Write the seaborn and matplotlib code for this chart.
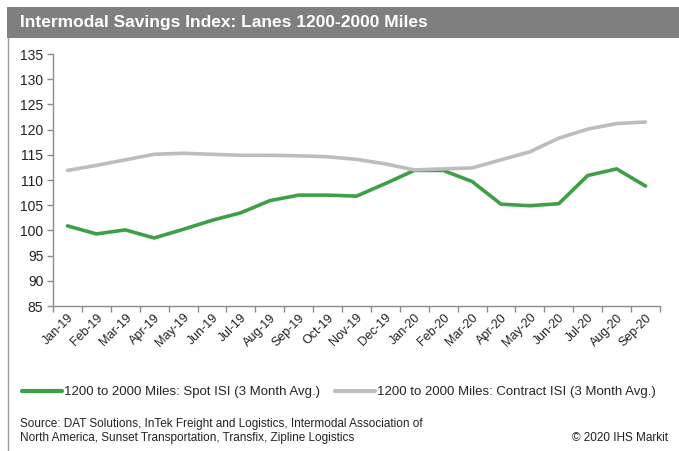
import matplotlib
matplotlib.use("Agg")
import matplotlib.pyplot as plt
from matplotlib.patches import Rectangle
from matplotlib.lines import Line2D
import seaborn as sns
import pandas as pd
import numpy as np

months = ["Jan-19", "Feb-19", "Mar-19", "Apr-19", "May-19", "Jun-19", "Jul-19",
          "Aug-19", "Sep-19", "Oct-19", "Nov-19", "Dec-19", "Jan-20", "Feb-20",
          "Mar-20", "Apr-20", "May-20", "Jun-20", "Jul-20", "Aug-20", "Sep-20"]
spot = [100.9, 99.3, 100.1, 98.5, 100.2, 102.0, 103.5, 105.9, 107.0, 107.0, 106.8,
        109.3, 111.9, 111.9, 109.7, 105.2, 104.9, 105.3, 110.9, 112.2, 108.8]
contract = [111.9, 112.9, 114.0, 115.1, 115.3, 115.1, 114.9, 114.9, 114.8, 114.6, 114.1,
            113.2, 112.0, 112.2, 112.4, 114.0, 115.6, 118.3, 120.1, 121.2, 121.5]
spot_label = "1200 to 2000 Miles: Spot ISI (3 Month Avg.)"
contract_label = "1200 to 2000 Miles: Contract ISI (3 Month Avg.)"
y_ticks = list(range(85, 136, 5))

sns.set_theme(style="white")
plt.rcParams["font.family"] = ["Liberation Sans", "DejaVu Sans"]

df = pd.DataFrame({
    "idx": list(range(len(months))) * 2,
    "value": spot + contract,
    "series": [spot_label] * len(months) + [contract_label] * len(months),
})

green = "#3f9f47"
grey = "#bdbdbd"
palette = {spot_label: green, contract_label: grey}

fig = plt.figure(figsize=(6.79, 4.51), dpi=100)

# header bar and left frame line
fig.patches.append(Rectangle((7 / 679, 1 - 38 / 451), 1, 31 / 451,
                             transform=fig.transFigure, facecolor="#7f7f7f",
                             edgecolor="none", zorder=0))
fig.lines.append(Line2D([7.5 / 679, 7.5 / 679], [0, 1 - 38 / 451],
                        transform=fig.transFigure, color="#9a9a9a", lw=1.0))
fig.text(20 / 679, 1 - 23 / 451, "Intermodal Savings Index: Lanes 1200-2000 Miles",
         color="white", fontsize=12.5, fontweight="bold", va="center", ha="left")

ax = fig.add_axes([53 / 679, 1 - 306 / 451, 607 / 679, 252 / 451])
sns.lineplot(data=df, x="idx", y="value", hue="series", palette=palette,
             hue_order=[spot_label, contract_label], linewidth=2.6,
             legend=False, ax=ax)

ax.set_xlim(-0.5, len(months) - 0.5)
ax.set_ylim(85, 135)
ax.set_yticks(y_ticks)
ax.set_yticklabels([str(t) for t in y_ticks], fontsize=10, color="#222222")
ax.set_xticks(np.arange(len(months)))
ax.set_xticklabels(months, rotation=45, ha="right", rotation_mode="anchor",
                   fontsize=9, color="#222222")
ax.set_xticks(np.arange(-0.5, len(months)), minor=True)
ax.tick_params(axis="x", which="major", length=0, pad=4)
ax.tick_params(axis="x", which="minor", length=4, width=1, color="#8c8c8c",
               direction="out", bottom=True)
ax.tick_params(axis="y", length=4, width=1, color="#8c8c8c", direction="out",
               left=True, pad=3)
ax.set_xlabel("")
ax.set_ylabel("")
for side in ["top", "right"]:
    ax.spines[side].set_visible(False)
for side in ["left", "bottom"]:
    ax.spines[side].set_color("#8c8c8c")
    ax.spines[side].set_linewidth(1.0)

# legend row
handles = [Line2D([], [], color=green, lw=3), Line2D([], [], color=grey, lw=3)]
fig.legend(handles, [spot_label, contract_label], loc="center left",
           bbox_to_anchor=(22 / 679, 1 - 392 / 451), ncol=2, frameon=False,
           fontsize=9.5, handlelength=3.0, handletextpad=0.15, columnspacing=1.2,
           borderaxespad=0, borderpad=0)

fig.text(20 / 679, 1 - 424 / 451,
         "Source: DAT Solutions, InTek Freight and Logistics, Intermodal Association of",
         fontsize=8.5, va="center", ha="left", color="#222222")
fig.text(20 / 679, 1 - 438 / 451,
         "North America, Sunset Transportation, Transfix, Zipline Logistics",
         fontsize=8.5, va="center", ha="left", color="#222222")
fig.text(668 / 679, 1 - 438 / 451, "\u00a9 2020 IHS Markit",
         fontsize=8.5, va="center", ha="right", color="#222222")

fig.savefig("out.png", dpi=100)
